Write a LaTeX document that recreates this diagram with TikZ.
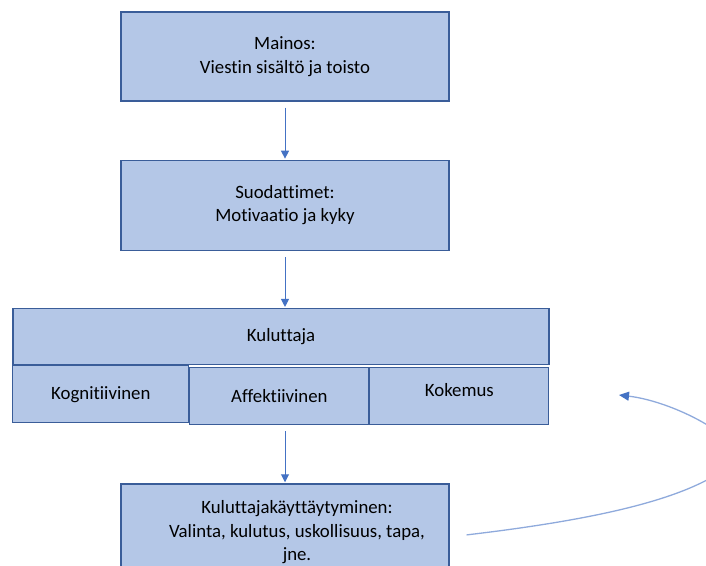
\documentclass[tikz,border=0pt]{standalone}
\usepackage{fontspec}
\setmainfont{Carlito}[Ligatures=NoCommon]
\usetikzlibrary{arrows.meta, positioning}
\definecolor{boxfill}{HTML}{B4C7E7}
\definecolor{boxline}{HTML}{3A5D99}
\definecolor{accent}{HTML}{4472C4}
\definecolor{loopline}{HTML}{8FAADC}
\tikzset{%
	block/.style={draw=boxline, fill=boxfill, line width=1.3pt, rectangle,%
		minimum width=328pt, minimum height=89pt, align=center, inner sep=0pt,%
		font=\fontsize{18.8}{23.5}\selectfont},
	part/.style={draw=boxline, fill=boxfill, line width=1pt, rectangle,%
		minimum height=57pt, inner sep=0pt, anchor=north west,%
		font=\fontsize{18.8}{23.5}\selectfont},
	flow/.style={draw=accent, line width=1pt, shorten <=6pt, shorten >=1pt,%
		-{Triangle[length=8pt, width=8pt]}},
	loop/.style={draw=loopline, line width=1.3pt,%
		-{Triangle[length=10pt, width=9pt, color=accent]}}
}

\begin{document}
\begin{tikzpicture}[x=1pt, y=-1pt]
	\useasboundingbox (0,0) rectangle (706,565);
	\clip (0,0) rectangle (706,565);

	\node[block] (ad) at (285,56.5) {Mainos:\\Viestin sisältö ja toisto};
	\node[block, below=58pt of ad, minimum height=90pt] (filt) {Suodattimet:\\Motivaatio ja kyky};
	\node[block, below=57pt of filt, xshift=-4pt, minimum width=536pt, minimum height=56pt] (cons) {Kuluttaja};
	\node[part, minimum width=176pt] (cog) at (cons.south west) {Kognitiivinen};
	\node[part, minimum width=179pt, yshift=-2pt] (aff) at (cog.north east) {Affektiivinen};
	\node[part, minimum width=179pt, text depth=12pt] (exp) at (aff.north east) {Kokemus};
	\node[block, below=58pt of aff.south -| ad.south, minimum height=93pt] (behav) {};
	\node[align=center, font=\fontsize{18.8}{23.5}\selectfont] (behavtxt) at ([xshift=12pt, yshift=-2pt]behav.center)
		{Kuluttajakäyttäytyminen:\\Valinta, kulutus, uskollisuus, tapa,\\jne.};

	\coordinate (loopA) at ([xshift=17pt, yshift=-4.5pt]behav.east);
	\coordinate (loopB) at (619,395);

	\draw[flow] (ad.south) -- (filt.north);
	\draw[flow] (filt.south) -- (filt.south |- cons.north);
	\draw[flow] (behav.north |- aff.south) -- (behav.north);
	\draw[loop] (loopA) .. controls (610,518) and (695,496) .. (734,462)
		.. controls (752,444) and (678,402) .. (loopB);

\end{tikzpicture}
\end{document}
